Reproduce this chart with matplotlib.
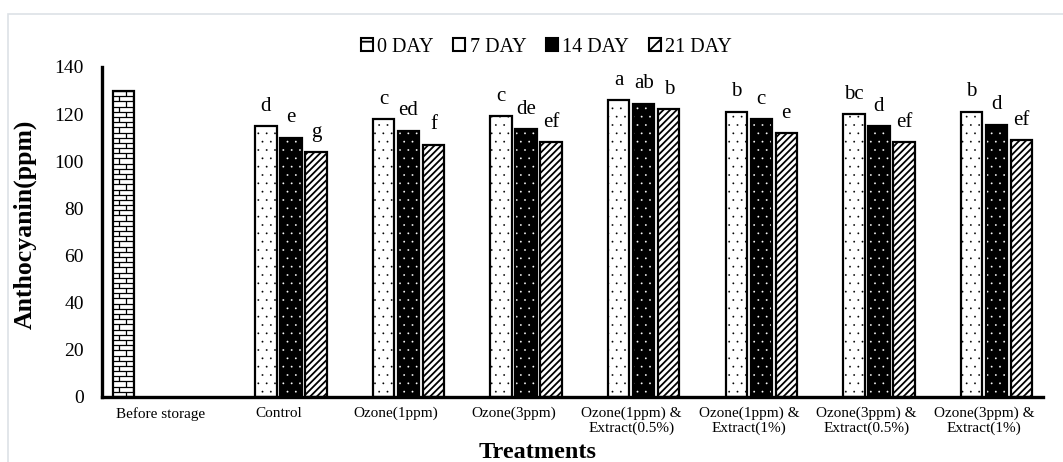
import matplotlib.pyplot as plt
import numpy as np
from matplotlib.patches import Patch, Rectangle

plt.rcParams['font.family'] = ['Liberation Serif', 'DejaVu Serif']

treatments = ['Before storage', 'Control', 'Ozone(1ppm)', 'Ozone(3ppm)',
              'Ozone(1ppm) &\nExtract(0.5%)', 'Ozone(1ppm) &\nExtract(1%)',
              'Ozone(3ppm) &\nExtract(0.5%)', 'Ozone(3ppm) &\nExtract(1%)']
series_names = ['0 DAY', '7 DAY', '14 DAY', '21 DAY']

nan = np.nan
day0 = [130, nan, nan, nan, nan, nan, nan, nan]
day7 = [nan, 115, 118, 119, 126, 121, 120, 121]
day14 = [nan, 110, 113, 113.5, 124.5, 118, 115, 115.5]
day21 = [nan, 104, 107, 108, 122, 112, 108, 109]

letters7 = ['', 'd', 'c', 'c', 'a', 'b', 'bc', 'b']
letters14 = ['', 'e', 'ed', 'de', 'ab', 'c', 'd', 'd']
letters21 = ['', 'g', 'f', 'ef', 'b', 'e', 'ef', 'ef']

fig = plt.figure(figsize=(10.63, 4.62), dpi=100)
ax = fig.add_axes([0.096, 0.1407, 0.885, 0.7143])

x = np.arange(len(treatments))
step = 0.2125
width = 0.183
edge_lw = 1.6


def draw_bars(values, k, face, hatch, hatch_col, hatch_lw=1.0):
    vals = np.array(values, dtype=float)
    ok = ~np.isnan(vals)
    pos = x[ok] + (k - 1.5) * step
    plt.rcParams['hatch.linewidth'] = hatch_lw
    # fill + pattern first, then the black outline on top
    fill = ax.bar(pos, vals[ok], width, color=face, edgecolor=hatch_col,
                  hatch=hatch, linewidth=0, zorder=2)
    ax.bar(pos, vals[ok], width, fill=False, edgecolor='black',
           linewidth=edge_lw, zorder=3)
    return fill, pos, vals[ok]


# 0 DAY: brick pattern
bricks, _, _ = draw_bars(day0, 0, 'white', None, 'black')
row_h = 2.2
for bar in bricks:
    x0, w, h = bar.get_x(), bar.get_width(), bar.get_height()
    ys = np.arange(0, h + row_h, row_h)
    hl = ax.hlines(ys, x0, x0 + w, color='black', linewidth=0.9, zorder=2.5)
    hl.set_clip_path(bar)
    for i, y0 in enumerate(ys[:-1]):
        cols = [0.62] if i % 2 == 0 else [0.28, 0.95]
        vl = ax.vlines([x0 + c * w for c in cols], y0, y0 + row_h,
                       color='black', linewidth=0.9, zorder=2.5)
        vl.set_clip_path(bar)

_, p7, v7 = draw_bars(day7, 1, 'white', '..', 'black', 0.1)
_, p14, v14 = draw_bars(day14, 2, 'black', '..', 'white', 0.1)
_, p21, v21 = draw_bars(day21, 3, 'white', '/////', 'black', 1.3)

# significance letters
for pos, vals, labs in [(p7, v7, [l for l in letters7 if l]),
                        (p14, v14, [l for l in letters14 if l]),
                        (p21, v21, [l for l in letters21 if l])]:
    for px, v, lab in zip(pos, vals, labs):
        ax.annotate(lab, (px, v), xytext=(0, 11), textcoords='offset points',
                    ha='center', va='baseline', fontsize=15)

ax.set_xlim(-0.5, len(treatments) - 0.5)
ax.set_ylim(0, 140)
ax.set_yticks(np.arange(0, 141, 20))
ax.set_xticks(x)
ax.set_xticklabels(treatments, fontsize=11, linespacing=1.15)
ax.tick_params(axis='y', length=0, pad=13, labelsize=14)
ax.tick_params(axis='x', length=0, pad=7)
for s in ['top', 'right']:
    ax.spines[s].set_visible(False)
for s in ['left', 'bottom']:
    ax.spines[s].set_linewidth(2.4)
    ax.spines[s].set_zorder(4)

ax.set_ylabel('Anthocyanin(ppm)', fontsize=18.5, fontweight='bold', va='center')
ax.yaxis.set_label_coords(-0.082, 0.524)
ax.set_xlabel('Treatments', fontsize=17.5, fontweight='bold', va='center')
ax.xaxis.set_label_coords(0.463, -0.167)

handles = [
    Patch(facecolor='white', edgecolor='black', hatch='+', linewidth=1.5),
    Patch(facecolor='white', edgecolor='black', linewidth=1.5),
    Patch(facecolor='black', edgecolor='black', linewidth=1.5),
    Patch(facecolor='white', edgecolor='black', hatch='//', linewidth=1.5),
]
fig.legend(handles, series_names, loc='center', bbox_to_anchor=(0.514, 0.898),
           ncol=4, frameon=False, fontsize=14.5, handlelength=0.6,
           handleheight=0.6, handletextpad=0.2, columnspacing=1.0)

# light frame around the figure
fig.patches.append(Rectangle((8 / 1063, -0.1), 1.2, 1.1 - 14 / 462,
                             transform=fig.transFigure, fill=False,
                             edgecolor='#dde1e6', linewidth=1.2))

fig.savefig('out.png', dpi=100)
